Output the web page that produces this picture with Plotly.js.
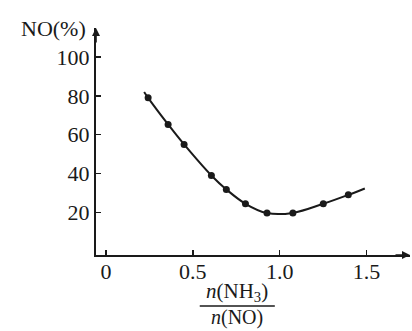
<!DOCTYPE html>
<html>
<head>
<meta charset="utf-8">
<script src="https://cdn.plot.ly/plotly-3.0.1.min.js"></script>
<style>html,body{margin:0;padding:0;background:#fff;}#chart{width:412px;height:331px;}</style>
</head>
<body>
<div id="chart"></div>
<script>
// measured points
var ratio = [0.243, 0.358, 0.45, 0.607, 0.693, 0.803, 0.927, 1.076, 1.251, 1.395];
var noPct = [79, 65.3, 55, 39, 31.8, 24.4, 19.6, 19.7, 24.4, 29];
// curve ends (line extends slightly beyond the measured points)
var curveStart = [0.22, 82];
var curveEnd = [1.49, 32.3];
var xTicks = [0, 0.5, 1.0, 1.5];
var xTickText = ["0", "0.5", "1.0", "1.5"];
var yTicks = [20, 40, 60, 80, 100];

var curveX = [curveStart[0]].concat(ratio, [curveEnd[0]]);
var curveY = [curveStart[1]].concat(noPct, [curveEnd[1]]);

var ink = "#1a1a1a";
var serif = "Liberation Serif, Times New Roman, serif";

var data = [
  {x: curveX, y: curveY, mode: "lines", line: {shape: "spline", smoothing: 1, color: ink, width: 2}, hoverinfo: "skip"},
  {x: ratio, y: noPct, mode: "markers", marker: {color: ink, size: 7}}
];

var layout = {
  width: 412, height: 331,
  margin: {l: 96, r: 2, t: 28, b: 76},
  paper_bgcolor: "#fff", plot_bgcolor: "#fff",
  showlegend: false,
  font: {family: serif, size: 22, color: ink},
  xaxis: {
    range: [-0.057, 1.75], showgrid: false, zeroline: false,
    showline: true, linecolor: ink, linewidth: 2,
    ticks: "inside", ticklen: 5, tickwidth: 1.5, tickcolor: ink,
    tickvals: xTicks, ticktext: xTickText, ticklabelstandoff: -4,
    tickfont: {family: serif, size: 22, color: ink}
  },
  yaxis: {
    range: [-2, 115], showgrid: false, zeroline: false,
    showline: true, linecolor: ink, linewidth: 2,
    ticks: "inside", ticklen: 5, tickwidth: 1.5, tickcolor: ink,
    tickvals: yTicks,
    tickfont: {family: serif, size: 22, color: ink}
  },
  annotations: [
    {xref: "paper", yref: "paper", x: 0, y: 1, ax: 0, ay: 16, text: "", showarrow: true, arrowhead: 2, arrowsize: 1, arrowwidth: 1.6, arrowcolor: ink},
    {xref: "paper", yref: "paper", x: 1, y: 0, ax: -16, ay: 0, text: "", showarrow: true, arrowhead: 2, arrowsize: 1, arrowwidth: 1.6, arrowcolor: ink},
    {xref: "paper", yref: "paper", x: 0, y: 1, xanchor: "right", yanchor: "middle", xshift: -8, yshift: 0, text: "NO(%)", showarrow: false, font: {family: serif, size: 22, color: ink}},
    {xref: "x", yref: "paper", x: 0.754, y: 0, xanchor: "center", yanchor: "middle", yshift: -37, text: "<i>n</i>(NH<sub>3</sub>)", showarrow: false, font: {family: serif, size: 21, color: ink}},
    {xref: "x", yref: "paper", x: 0.754, y: 0, xanchor: "center", yanchor: "middle", yshift: -62, text: "<i>n</i>(NO)", showarrow: false, font: {family: serif, size: 20, color: ink}}
  ],
  shapes: [
    {type: "line", xref: "x", yref: "paper", ysizemode: "pixel", yanchor: 0, x0: 0.54, x1: 0.972, y0: -51, y1: -51, line: {color: ink, width: 1.5}}
  ]
};

Plotly.newPlot("chart", data, layout, {displayModeBar: false, staticPlot: true});
</script>
</body>
</html>
